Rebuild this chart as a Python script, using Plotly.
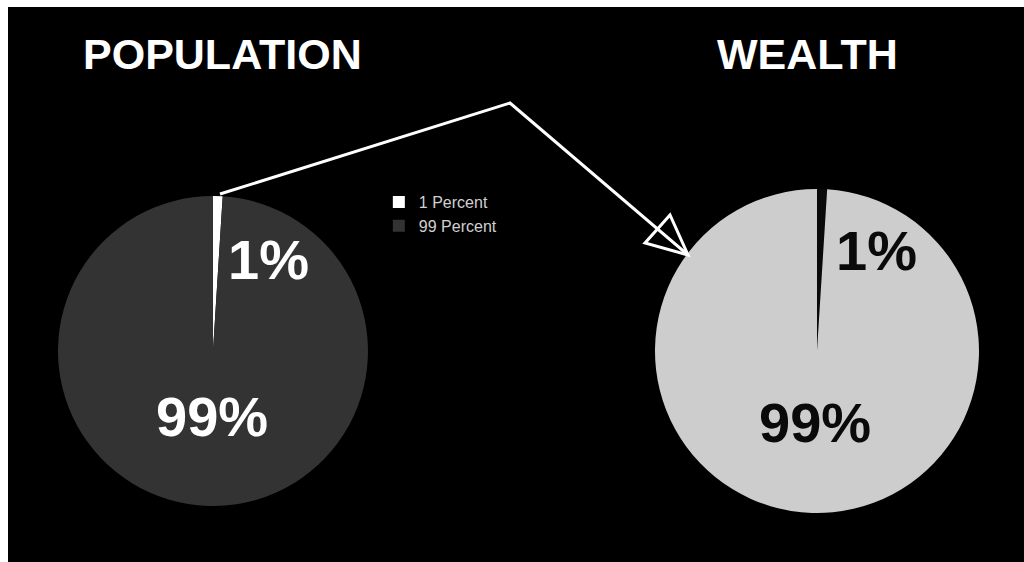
import plotly.graph_objects as go

W, H = 1024, 562
LEFT, TOP = 8, 7  # white strip on the left and top of the original

# data
labels = ["1 Percent", "99 Percent"]
population = [1, 99]
wealth = [1, 99]
titles = ["POPULATION", "WEALTH"]

pop_colors = ["#ffffff", "#333333"]
wealth_colors = ["#0a0a0a", "#cdcdcd"]

fig = go.Figure()

# invisible pixel-space axis so decorations can be placed like the original
fig.add_trace(go.Scatter(x=[LEFT, W], y=[TOP, H], mode="markers",
                         marker={"opacity": 0}, showlegend=False,
                         hoverinfo="skip"))

fig.add_trace(go.Pie(
    labels=labels, values=population, sort=False, direction="clockwise",
    rotation=0, textinfo="none", name="Population",
    marker={"colors": pop_colors, "line": {"width": 0}},
    domain={"x": [0.0492, 0.3543], "y": [0.1009, 0.6595]},
))
fig.add_trace(go.Pie(
    labels=labels, values=wealth, sort=False, direction="clockwise",
    rotation=0, textinfo="none", name="Wealth", showlegend=False,
    marker={"colors": wealth_colors, "line": {"width": 0}},
    domain={"x": [0.6368, 0.9557], "y": [0.0883, 0.6721]},
))

big = "Liberation Sans Narrow, Liberation Sans, Arial, sans-serif"
annotations = []
for txt, x in zip(titles, [222, 807]):
    annotations.append(dict(x=x, y=54, xref="x", yref="y", text=f"<b>{txt}</b>",
                            showarrow=False,
                            font={"family": "Liberation Sans, Arial", "size": 43,
                                  "color": "white"}))
for vals, color, pos in [
    (population, "white", [(268, 259), (212, 416)]),
    (wealth, "#0a0a0a", [(876, 250), (815, 422)]),
]:
    for v, (x, y) in zip(vals, pos):
        annotations.append(dict(x=x, y=y, xref="x", yref="y", text=f"<b>{v}%</b>",
                                showarrow=False,
                                font={"family": big, "size": 56, "color": color}))

shapes = [
    dict(type="path", xref="x", yref="y", path="M 220,194 L 510,103 L 688,255",
         line={"color": "white", "width": 3}),
    dict(type="path", xref="x", yref="y", path="M 688,255 L 645,243 L 670,215 Z",
         line={"color": "white", "width": 3}),
]

fig.update_layout(
    width=W, height=H,
    margin={"l": LEFT, "r": 0, "t": TOP, "b": 0},
    paper_bgcolor="white",
    plot_bgcolor="black",
    xaxis={"range": [LEFT, W], "visible": False, "fixedrange": True},
    yaxis={"range": [H, TOP], "visible": False, "fixedrange": True},
    annotations=annotations,
    shapes=shapes,
    showlegend=True,
    legend={"x": 0.365, "y": 0.679, "xanchor": "left", "yanchor": "top",
            "bgcolor": "rgba(0,0,0,0)",
            "font": {"family": "Liberation Sans, Arial", "size": 16,
                     "color": "#d0d0d0"}},
)

# drop the browser's default body margin so the figure fills the window
fig.write_html("out.html",
               config={"displayModeBar": False},
               post_script="document.body.style.margin='0';"
                           "document.body.style.overflow='hidden';")
